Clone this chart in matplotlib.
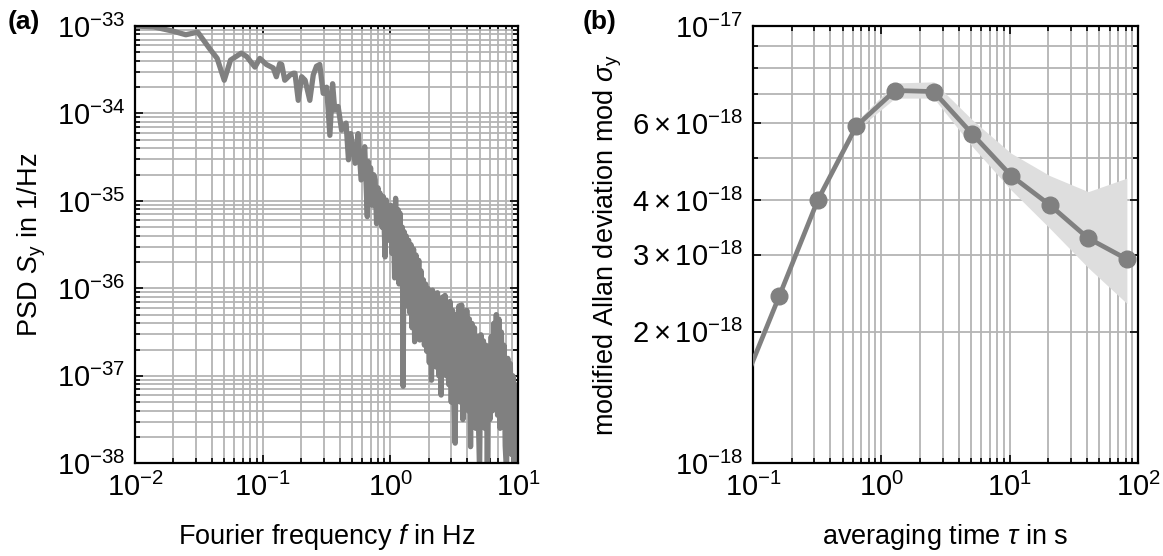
import numpy as np
import matplotlib
matplotlib.use('Agg')
import matplotlib.pyplot as plt
from matplotlib.ticker import FixedLocator, FixedFormatter, NullFormatter, LogLocator

plt.rcParams['font.family'] = ['Liberation Sans', 'DejaVu Sans']
plt.rcParams['mathtext.fontset'] = 'custom'
plt.rcParams['mathtext.rm'] = 'Liberation Sans'
plt.rcParams['mathtext.it'] = 'Liberation Sans:italic'
plt.rcParams['mathtext.bf'] = 'Liberation Sans:bold'

# (a) PSD (frequency in Hz, log10 of S_y)
psd_f = [0.010, 0.014, 0.020, 0.025, 0.031, 0.038, 0.044, 0.050, 0.056, 0.068,
         0.075, 0.087, 0.095, 0.107, 0.121, 0.128, 0.136, 0.141, 0.149, 0.154,
         0.164, 0.174, 0.179, 0.190, 0.202, 0.215, 0.234, 0.249, 0.264, 0.280,
         0.298, 0.317, 0.336, 0.353, 0.367, 0.390, 0.415, 0.450, 0.470, 0.490,
         0.530, 0.560, 0.590, 0.630,
         0.66, 0.67, 0.69, 0.70, 0.72, 0.74, 0.76, 0.78, 0.80, 0.82,
         0.83, 0.86, 0.88, 0.91, 0.93, 0.96, 0.99, 1.01, 1.03, 1.06,
         1.08, 1.10, 1.12, 1.15, 1.17, 1.19, 1.22, 1.24, 1.26, 1.28,
         1.31, 1.33, 1.36, 1.39, 1.42, 1.45, 1.48, 1.52, 1.55, 1.59,
         1.63, 1.67, 1.70, 1.74, 1.77, 1.81, 1.85, 1.89, 1.93, 1.97,
         2.02, 2.06, 2.10, 2.14, 2.19, 2.24, 2.29, 2.34, 2.40, 2.45,
         2.50, 2.56, 2.62, 2.68, 2.74, 2.80, 2.87, 2.93, 3.00, 3.07,
         3.14, 3.22, 3.29, 3.37, 3.45, 3.53, 3.62, 3.70, 3.79, 3.88,
         3.97, 4.07, 4.16, 4.25, 4.35, 4.45, 4.56, 4.66, 4.77, 4.88,
         5.00, 5.12, 5.24, 5.36, 5.49, 5.62, 5.75, 5.88, 6.02, 6.17,
         6.31, 6.46, 6.61, 6.76, 6.92, 7.08, 7.24, 7.41, 7.59, 7.76,
         7.94, 8.13, 8.32, 8.51, 8.71, 8.91, 9.12, 9.33, 9.55, 9.77, 10.0]
psd_log = [-33.00, -33.01, -33.06, -33.10, -33.07, -33.25, -33.37, -33.62, -33.39, -33.31,
           -33.35, -33.47, -33.37, -33.44, -33.48, -33.58, -33.43, -33.44, -33.62, -33.60,
           -33.56, -33.54, -33.54, -33.85, -33.58, -33.62, -33.85, -33.56, -33.46, -33.44,
           -33.77, -33.70, -34.25, -33.66, -33.96, -33.92, -34.19, -34.11, -34.53, -34.23,
           -34.57, -34.23, -34.76, -34.38,
           -35.18, -34.55, -34.88, -34.62, -35.05, -34.70, -34.76, -35.26, -34.85, -35.15,
           -34.91, -35.30, -34.95, -35.64, -34.99, -35.45, -35.30, -35.05, -35.60, -35.20,
           -35.88, -34.97, -35.70, -35.10, -35.95, -35.14, -35.90, -35.30, -37.12, -35.35,
           -36.10, -35.40, -36.20, -35.45, -36.28, -35.50, -36.45, -35.55, -36.61, -35.62,
           -36.40, -35.68, -36.59, -35.80, -36.50, -35.90, -36.65, -35.95, -36.72, -36.00,
           -36.85, -36.05, -37.05, -36.02, -36.80, -36.10, -36.90, -36.05, -37.00, -36.15,
           -37.22, -36.10, -36.95, -36.08, -37.00, -36.20, -37.10, -36.15, -37.30, -36.25,
           -37.20, -37.77, -36.30, -37.20, -36.20, -37.30, -36.19, -37.50, -36.30, -37.25,
           -36.25, -37.40, -36.35, -37.81, -36.40, -37.50, -36.45, -37.60, -36.55, -37.40,
           -38.10, -36.53, -37.45, -36.60, -37.60, -36.65, -38.10, -36.75, -37.50, -36.55,
           -37.40, -36.40, -37.30, -36.30, -37.45, -36.35, -37.60, -36.50, -37.50, -36.65,
           -37.80, -38.10, -36.80, -37.70, -36.86, -37.90, -37.00, -38.10, -37.10, -37.80, -37.20]

# (b) modified Allan deviation
tau = [0.08, 0.16, 0.32, 0.64, 1.28, 2.56, 5.12, 10.24, 20.48, 40.96, 81.92]
mdev = [1.46, 2.41, 4.00, 5.91, 7.12, 7.08, 5.66, 4.55, 3.90, 3.27, 2.93]
mdev_hi = [1.47, 2.43, 4.03, 6.05, 7.41, 7.45, 6.10, 5.12, 4.55, 4.18, 4.49]
mdev_lo = [1.45, 2.39, 3.97, 5.78, 6.84, 6.84, 5.30, 4.22, 3.45, 2.80, 2.32]

ytick_b = [1e-18, 2e-18, 3e-18, 4e-18, 6e-18, 1e-17]
ytick_b_labels = [r'$10^{-18}$', r'$2\times10^{-18}$', r'$3\times10^{-18}$',
                  r'$4\times10^{-18}$', r'$6\times10^{-18}$', r'$10^{-17}$']
yminor_b = [5e-18, 7e-18, 8e-18, 9e-18]

GRAY = '#808080'
GRID = '#b4b4b4'
FS_TICK = 21
FS_LAB = 19.5

fig = plt.figure(figsize=(11.63, 5.56), dpi=100)
ax1 = fig.add_axes([135/1163, 1 - 463.3/556, 383/1163, 437.3/556])
ax2 = fig.add_axes([753/1163, 1 - 463.3/556, 385/1163, 437.3/556])

def style(ax):
    ax.set_axisbelow(True)
    ax.grid(True, which='both', color=GRID, lw=1.3)
    ax.tick_params(which='both', direction='in', top=True, right=True,
                   width=1.2, labelsize=FS_TICK, pad=7)
    ax.tick_params(which='major', length=6)
    ax.tick_params(which='minor', length=3.5)
    for s in ax.spines.values():
        s.set_linewidth(1.6)

# panel (a)
ax1.plot(psd_f, 10.0 ** np.array(psd_log), color=GRAY, lw=3.8, solid_joinstyle='round')
ax1.set_xscale('log')
ax1.set_yscale('log')
ax1.set_xlim(1e-2, 1e1)
ax1.set_ylim(1e-38, 1e-33)
ax1.yaxis.set_major_locator(LogLocator(base=10, numticks=10))
ax1.yaxis.set_minor_locator(LogLocator(base=10, subs=np.arange(2, 10), numticks=20))
ax1.yaxis.set_minor_formatter(NullFormatter())
ax1.xaxis.set_minor_formatter(NullFormatter())
style(ax1)
ax1.set_xlabel(r'Fourier frequency $f$ in Hz', fontsize=FS_LAB, labelpad=14)
ax1.set_ylabel(r'PSD $S_\mathrm{y}$ in 1/Hz', fontsize=FS_LAB, labelpad=6)

# panel (b)
ax2.fill_between(tau, np.array(mdev_lo) * 1e-18, np.array(mdev_hi) * 1e-18,
                 color='#dedede', lw=0, zorder=2)
ax2.plot(tau, np.array(mdev) * 1e-18, color=GRAY, lw=3.4, marker='o', ms=12, zorder=3)
ax2.set_xscale('log')
ax2.set_yscale('log')
ax2.set_xlim(1e-1, 1e2)
ax2.set_ylim(1e-18, 1e-17)
ax2.yaxis.set_major_locator(FixedLocator(ytick_b))
ax2.yaxis.set_major_formatter(FixedFormatter(ytick_b_labels))
ax2.yaxis.set_minor_locator(FixedLocator(yminor_b))
ax2.yaxis.set_minor_formatter(NullFormatter())
ax2.xaxis.set_minor_formatter(NullFormatter())
style(ax2)
ax2.set_xlabel(r'averaging time $\tau$ in s', fontsize=FS_LAB, labelpad=14)
ax2.set_ylabel(r'modified Allan deviation mod $\sigma_\mathrm{y}$', fontsize=FS_LAB, labelpad=6)

fig.text(8/1163, 1 - 22/556, '(a)', fontsize=19, fontweight='bold', va='center')
fig.text(583/1163, 1 - 22/556, '(b)', fontsize=19, fontweight='bold', va='center')

fig.savefig('out.png', dpi=100)
